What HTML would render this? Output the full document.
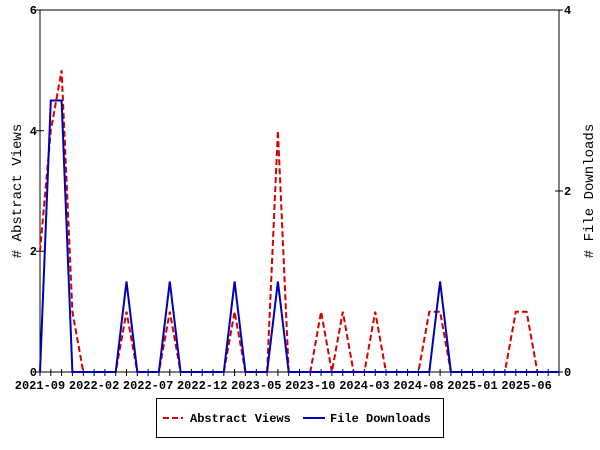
<!DOCTYPE html>
<html><head><meta charset="utf-8"><style>
html,body{margin:0;padding:0;background:#fff;}
svg{display:block;font-family:"Liberation Mono",monospace;font-weight:bold;}
</style></head><body>
<svg width="600" height="450" viewBox="0 0 600 450" xmlns="http://www.w3.org/2000/svg">
<rect x="0" y="0" width="600" height="450" fill="#fff"/>
<rect x="40" y="10" width="519" height="362" fill="none" stroke="#000" stroke-width="1"/>
<g stroke="#000" stroke-width="1">
<path d="M36 372H44M36 251.3H44M36 130.7H44M36 10H44"/>
<path d="M555 372H563M555 191H563M555 10H563"/>
<path d="M40 369V376M50.8 369V376M61.6 369V376M72.4 369V376M83.3 369V376M94.1 369V376M104.9 369V376M115.7 369V376M126.5 369V376M137.3 369V376M148.1 369V376M158.9 369V376M169.8 369V376M180.6 369V376M191.4 369V376M202.2 369V376M213 369V376M223.8 369V376M234.6 369V376M245.4 369V376M256.3 369V376M267.1 369V376M277.9 369V376M288.7 369V376M299.5 369V376M310.3 369V376M321.1 369V376M331.9 369V376M342.8 369V376M353.6 369V376M364.4 369V376M375.2 369V376M386 369V376M396.8 369V376M407.6 369V376M418.4 369V376M429.3 369V376M440.1 369V376M450.9 369V376M461.7 369V376M472.5 369V376M483.3 369V376M494.1 369V376M504.9 369V376M515.8 369V376M526.6 369V376M537.4 369V376M548.2 369V376M559 369V376"/>
</g>
<g font-size="12" fill="#000" text-anchor="end">
<text x="37" y="376">0</text><text x="37" y="255">2</text><text x="37" y="135">4</text><text x="37" y="14">6</text>
</g>
<g font-size="12" fill="#000" text-anchor="start">
<text x="564" y="376">0</text><text x="564" y="195">2</text><text x="564" y="14">4</text>
</g>
<g font-size="12" fill="#000" text-anchor="middle">
<text x="40" y="389">2021-09</text><text x="94.1" y="389">2022-02</text><text x="148.1" y="389">2022-07</text><text x="202.2" y="389">2022-12</text><text x="256.3" y="389">2023-05</text><text x="310.3" y="389">2023-10</text><text x="364.4" y="389">2024-03</text><text x="418.4" y="389">2024-08</text><text x="472.5" y="389">2025-01</text><text x="526.6" y="389">2025-06</text>
</g>
<text transform="translate(21,191) rotate(-90)" font-size="14" font-weight="normal" text-anchor="middle" fill="#000">#  Abstract Views</text>
<text transform="translate(593,191) rotate(-90)" font-size="14" font-weight="normal" text-anchor="middle" fill="#000">#  File Downloads</text>
<polyline fill="none" stroke="#d40000" stroke-width="2" stroke-dasharray="6,3" points="40,251.3 50.8,130.7 61.6,70.3 72.4,311.7 83.3,372 115.7,372 126.5,311.7 137.3,372 158.9,372 169.8,311.7 180.6,372 223.8,372 234.6,311.7 245.4,372 267.1,372 277.9,130.7 288.7,372 310.3,372 321.1,311.7 331.9,372 342.8,311.7 353.6,372 364.4,372 375.2,311.7 386,372 418.4,372 429.3,311.7 440.1,311.7 450.9,372 504.9,372 515.8,311.7 526.6,311.7 537.4,372 559,372"/>
<polyline fill="none" stroke="#0000b4" stroke-width="2" points="40,372 50.8,100.5 61.6,100.5 72.4,372 115.7,372 126.5,281.5 137.3,372 158.9,372 169.8,281.5 180.6,372 223.8,372 234.6,281.5 245.4,372 267.1,372 277.9,281.5 288.7,372 429.3,372 440.1,281.5 450.9,372 559,372"/>
<rect x="156.5" y="398.5" width="287" height="39" fill="#fff" stroke="#000" stroke-width="1"/>
<line x1="163" y1="418" x2="183" y2="418" stroke="#d40000" stroke-width="2" stroke-dasharray="6,3"/>
<text x="190" y="422" font-size="12" fill="#000">Abstract Views</text>
<line x1="303" y1="418" x2="325" y2="418" stroke="#0000b4" stroke-width="2"/>
<text x="330" y="422" font-size="12" fill="#000">File Downloads</text>
</svg>
</body></html>
